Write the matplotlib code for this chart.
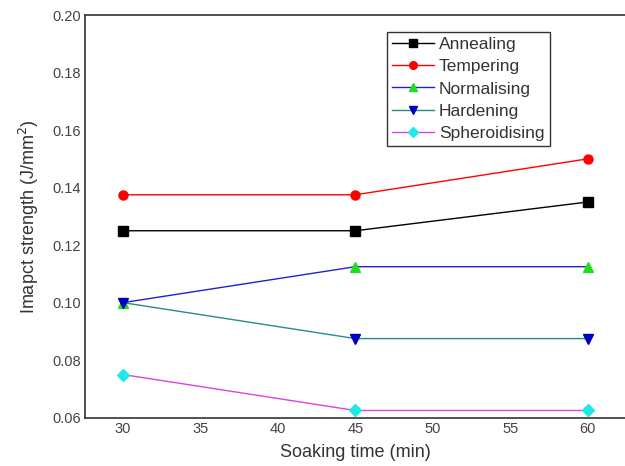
import matplotlib
matplotlib.use("Agg")
import matplotlib.pyplot as plt

plt.rcParams["font.family"] = ["Liberation Sans", "DejaVu Sans"]

soak_time = [30, 45, 60]
annealing = [0.125, 0.125, 0.135]
tempering = [0.1375, 0.1375, 0.150]
normalising = [0.100, 0.1125, 0.1125]
hardening = [0.100, 0.0875, 0.0875]
spheroidising = [0.075, 0.0625, 0.0625]

series = [
    ("Annealing", annealing, "black", "s", "black"),
    ("Tempering", tempering, "red", "o", "red"),
    ("Normalising", normalising, "#2020d0", "^", "#22dd22"),
    ("Hardening", hardening, "#2a8a8a", "v", "#0000c0"),
    ("Spheroidising", spheroidising, "#e040e0", "D", "#22e8e8"),
]

fig = plt.figure(figsize=(6.25, 4.66), dpi=100)
ax = fig.add_axes([0.136, 0.1037, 0.864, 0.864])

for name, vals, lc, mk, mc in series:
    ax.plot(soak_time, vals, color=lc, lw=1.0, marker=mk,
            markersize=6.5, markerfacecolor=mc,
            markeredgecolor=mc, label=name)

ax.set_xlim(27.55, 62.4)
ax.set_ylim(0.06, 0.20)
ax.set_xticks([30, 35, 40, 45, 50, 55, 60])
ax.set_yticks([0.06, 0.08, 0.10, 0.12, 0.14, 0.16, 0.18, 0.20])
ax.set_yticklabels([f"{v:.2f}" for v in ax.get_yticks()])
ax.tick_params(length=0, labelsize=10.5, labelcolor="#444444", pad=3)
ax.spines["right"].set_visible(False)
for s in ("left", "bottom", "top"):
    ax.spines[s].set_color("#333333")
    ax.spines[s].set_linewidth(1.2)

ax.set_xlabel("Soaking time (min)", fontsize=13, color="#333333", labelpad=6)
ax.set_ylabel("Imapct strength (J/mm$^2$)", fontsize=13, color="#333333", labelpad=8)

leg = ax.legend(loc="upper left", bbox_to_anchor=(0.559, 0.958), borderaxespad=0,
                fancybox=False, edgecolor="#333333", framealpha=1, fontsize=12.5,
                handlelength=2.4, handletextpad=0.3, labelspacing=0.4,
                borderpad=0.3, markerscale=0.85)
leg.get_frame().set_linewidth(1.0)
for t in leg.get_texts():
    t.set_color("#333333")

fig.savefig("out.png", dpi=100)
